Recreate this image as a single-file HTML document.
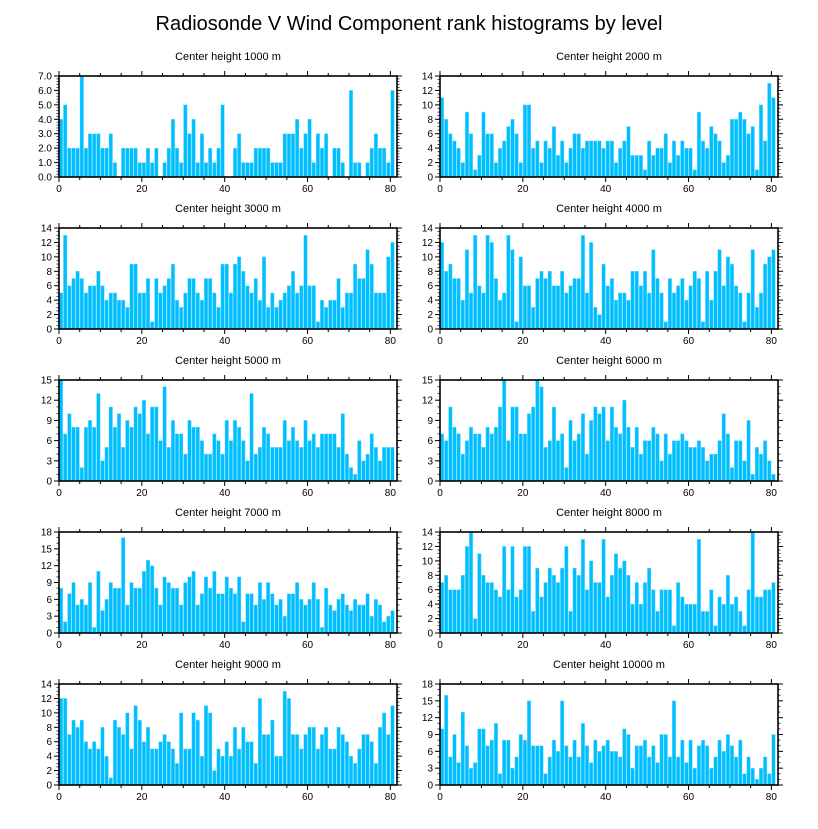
<!DOCTYPE html>
<html><head><meta charset="utf-8"><style>
body{margin:0;background:#fff;width:818px;height:824px;overflow:hidden}
svg text{font-family:"Liberation Sans",sans-serif;fill:#000}
</style></head><body>
<svg id="c" width="818" height="824">
<text x="409" y="30" font-size="20" text-anchor="middle">Radiosonde V Wind Component rank histograms by level</text>
</svg>
<script>
const titles=["Center height 1000 m","Center height 2000 m","Center height 3000 m","Center height 4000 m","Center height 5000 m","Center height 6000 m","Center height 7000 m","Center height 8000 m","Center height 9000 m","Center height 10000 m"];
const yMax=[7,14,14,14,15,15,18,14,14,18];
const yStep=[1,2,2,2,3,3,3,2,2,3];
const xTicks=[0,20,40,60,80];
const h1000=[4,5,2,2,2,7,2,3,3,3,2,2,3,1,0,2,2,2,2,1,1,2,1,2,0,1,2,4,2,1,5,3,4,1,3,1,2,1,2,5,0,0,2,3,1,1,1,2,2,2,2,1,1,1,3,3,3,4,2,3,4,1,3,2,3,0,2,2,1,0,6,1,1,0,1,2,3,2,2,1,6];
const h2000=[11,8,6,5,4,2,9,6,1,3,9,6,6,2,4,5,7,8,6,2,10,10,4,5,2,5,4,7,3,5,2,4,6,6,4,5,5,5,5,4,5,5,2,4,5,7,3,3,3,1,5,3,4,4,6,2,5,3,5,4,4,1,9,5,4,7,6,5,2,3,8,8,9,8,6,7,1,10,5,13,11];
const h3000=[5,13,6,7,8,7,5,6,6,8,6,4,5,5,4,4,3,9,9,5,5,7,1,7,5,6,7,9,4,3,5,7,7,5,4,7,7,5,3,9,9,5,9,10,8,6,5,7,4,10,3,5,3,4,5,6,8,5,6,13,6,6,1,4,3,4,4,7,3,5,5,9,7,7,11,9,5,5,5,10,12];
const h4000=[12,8,9,7,7,4,11,5,13,6,5,13,12,7,4,5,13,11,1,10,6,6,3,7,8,7,8,6,6,8,5,6,7,7,13,5,12,3,2,9,6,7,4,5,5,4,8,8,6,8,5,11,7,5,1,7,5,6,7,4,6,8,7,1,8,4,8,11,6,10,9,6,5,1,5,11,3,5,9,10,11];
const h5000=[15,7,10,8,8,2,8,9,8,13,3,5,11,8,10,5,9,8,11,10,12,7,11,11,6,14,5,9,7,7,4,9,8,8,6,4,4,7,6,4,9,6,9,8,6,3,13,4,5,8,7,5,5,5,9,6,8,6,5,9,6,7,5,7,7,7,7,5,10,4,2,1,6,3,4,7,5,3,5,5,5];
const h6000=[7,6,11,8,7,4,6,8,7,7,5,8,7,8,11,15,6,11,11,7,7,10,11,15,14,5,6,11,6,7,2,9,6,7,10,4,9,11,10,11,6,11,8,7,12,8,5,8,4,6,6,8,7,3,7,4,6,6,7,6,5,5,6,5,3,4,4,6,10,7,2,6,6,3,9,1,5,4,6,3,1];
const h7000=[8,2,7,9,5,6,5,9,1,11,4,6,9,8,8,17,5,9,8,8,11,13,12,8,5,10,9,8,8,5,9,10,11,5,7,10,8,11,7,7,10,8,7,10,2,7,7,5,9,6,9,7,5,6,3,7,7,9,6,5,6,9,6,1,8,5,4,6,7,5,4,6,5,5,7,3,6,5,2,3,4];
const h8000=[7,8,6,6,6,8,12,14,2,11,8,7,7,6,5,12,6,12,5,6,12,12,3,9,5,7,9,8,7,9,12,3,9,8,13,6,10,7,7,13,5,8,11,9,10,8,4,7,4,7,9,6,3,6,6,6,1,7,5,4,4,4,13,3,3,6,1,5,4,8,4,5,3,1,6,14,5,5,6,6,7];
const h9000=[12,12,7,9,8,9,6,5,6,5,8,4,1,9,8,7,10,5,11,9,6,8,5,5,6,7,6,5,3,10,5,5,10,9,4,11,10,2,5,4,6,4,8,5,8,6,6,3,12,7,7,9,4,4,13,12,7,7,5,7,8,8,5,7,8,5,5,8,7,6,4,3,5,7,7,6,3,8,10,7,11];
const h10000=[10,16,5,9,4,13,7,3,4,10,10,7,8,11,2,8,8,3,5,9,8,15,7,7,7,2,5,8,6,15,7,5,8,5,11,7,4,8,6,7,8,6,6,5,10,9,3,7,7,8,5,7,4,9,9,5,15,5,8,4,8,3,7,8,7,3,5,8,6,9,7,5,8,2,5,3,1,3,5,2,9];
const series=[h1000,h2000,h3000,h4000,h5000,h6000,h7000,h8000,h9000,h10000];

const svg=document.getElementById('c');
const NS='http://www.w3.org/2000/svg';
function mk(tag,attrs,parent){const e=document.createElementNS(NS,tag);for(const k in attrs)e.setAttribute(k,attrs[k]);parent.appendChild(e);return e;}
const XMAX=81.6;
series.forEach((vals,p)=>{
  const col=p%2,row=Math.floor(p/2);
  const L=col?440:59,R=col?778:397,T=76+row*152,B=T+101;
  const W=R-L,H=B-T;
  const sx=v=>L+v/XMAX*W;
  const sy=v=>B-v/yMax[p]*H;
  const g=mk('g',{},svg);
  
  
  const t=mk('text',{x:(L+R)/2,y:T-16,'font-size':11,'text-anchor':'middle'},g);
  t.textContent=titles[p];
  
  
  vals.forEach((v,i)=>{
    if(v<=0)return;
    const r=mk('rect',{x:sx(i)+0.3,y:sy(v),width:sx(i+1)-sx(i)-0.6,height:B-sy(v),fill:'#00bfff',stroke:'#7fdcff','stroke-width':0.4},g);
    
    
  });
  const f=mk('rect',{x:L,y:T,width:W,height:H,fill:'none',stroke:'#000','stroke-width':1.6},g);
  
  
  for(let v=0;v<=80;v+=5){
    const maj=v%20===0,len=maj?5:3;
    mk('line',{x1:sx(v),x2:sx(v),y1:B,y2:B+len,stroke:'#000','stroke-width':1},g);
    mk('line',{x1:sx(v),x2:sx(v),y1:T,y2:T-len,stroke:'#000','stroke-width':1},g);
  }
  xTicks.forEach(v=>{
    const tl=mk('text',{x:sx(v),y:B+15,'font-size':10,'text-anchor':'middle'},g);
    tl.textContent=v;
    
    
  });
  const st=yStep[p];
  for(let v=0;v<=yMax[p]+1e-9;v+=st){
    mk('line',{x1:L,x2:L-5,y1:sy(v),y2:sy(v),stroke:'#000','stroke-width':1},g);
    mk('line',{x1:R,x2:R+5,y1:sy(v),y2:sy(v),stroke:'#000','stroke-width':1},g);
    const yl=mk('text',{x:L-7,y:sy(v)+3.5,'font-size':10,'text-anchor':'end'},g);
    yl.textContent=yMax[p]===7?v.toFixed(1):v;
    
    
  }
  const mst=st/ (st===3?3:(st===1?5:4));
  for(let v=0;v<=yMax[p]+1e-9;v+=mst){
    mk('line',{x1:L,x2:L-2.5,y1:sy(v),y2:sy(v),stroke:'#000','stroke-width':0.7},g);
    mk('line',{x1:R,x2:R+2.5,y1:sy(v),y2:sy(v),stroke:'#000','stroke-width':0.7},g);
  }
});
</script>
</body></html>
